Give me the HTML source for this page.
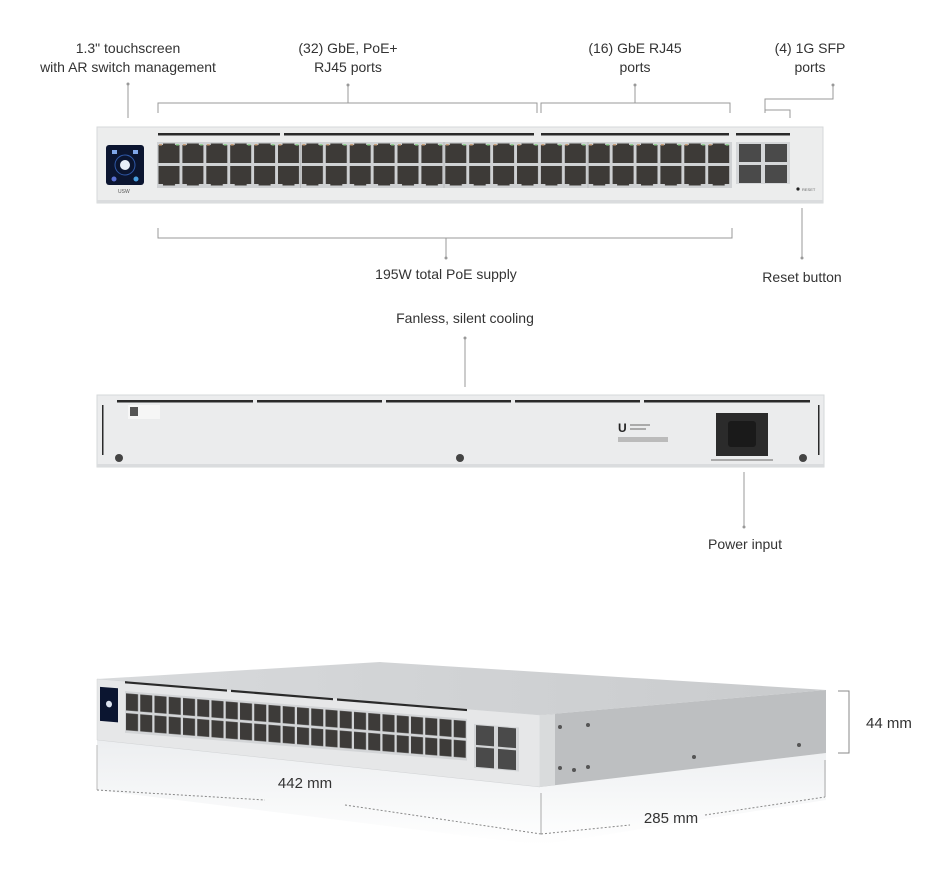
<!DOCTYPE html>
<html><head><meta charset="utf-8"><style>
html,body{margin:0;padding:0;background:#fff;}
svg{display:block;}
text{font-family:"Liberation Sans",sans-serif;fill:#333;font-size:14px;}
</style></head><body>
<svg width="948" height="886" viewBox="0 0 948 886" xmlns="http://www.w3.org/2000/svg">
<defs>
<pattern id="port" x="157" y="143" width="23.9" height="44" patternUnits="userSpaceOnUse">
  <rect x="1.5" y="2" width="21" height="18" fill="#3d3a37"/>
  <rect x="6" y="0.5" width="12" height="3" fill="#3d3a37"/>
  <rect x="1.5" y="23" width="21" height="18" fill="#3d3a37"/>
  <rect x="6" y="39.5" width="12" height="3" fill="#3d3a37"/>
  <rect x="2" y="1" width="3" height="1.5" fill="#c9a07a"/>
  <rect x="19" y="1" width="3" height="1.5" fill="#8fd08f"/>
</pattern>
<pattern id="pport" x="125" y="620" width="14.25" height="36" patternUnits="userSpaceOnUse">
  <rect x="1" y="1" width="12" height="15.5" fill="#3d3b39"/>
  <rect x="1" y="19" width="12" height="15.5" fill="#3d3b39"/>
</pattern>
<linearGradient id="refl" x1="0" y1="0" x2="0" y2="1">
  <stop offset="0" stop-color="#eceef0"/><stop offset="1" stop-color="#fff"/>
</linearGradient>
<linearGradient id="topg" x1="0" y1="0" x2="1" y2="0">
  <stop offset="0" stop-color="#d8dadc"/><stop offset="1" stop-color="#c9cbcd"/>
</linearGradient>
</defs>

<!-- ===== Top labels ===== -->
<text x="128" y="53" text-anchor="middle">1.3" touchscreen</text>
<text x="128" y="72" text-anchor="middle">with AR switch management</text>
<line x1="128" y1="84" x2="128" y2="118" stroke="#999"/>
<circle cx="128" cy="84" r="1.5" fill="#999"/>

<text x="348" y="53" text-anchor="middle">(32) GbE, PoE+</text>
<text x="348" y="72" text-anchor="middle">RJ45 ports</text>
<path d="M348 85 V103 M158 113 V103 H537 V113" stroke="#999" fill="none"/>
<circle cx="348" cy="85" r="1.5" fill="#999"/>

<text x="635" y="53" text-anchor="middle">(16) GbE RJ45</text>
<text x="635" y="72" text-anchor="middle">ports</text>
<path d="M635 85 V103 M541 113 V103 H730 V113" stroke="#999" fill="none"/>
<circle cx="635" cy="85" r="1.5" fill="#999"/>

<text x="810" y="53" text-anchor="middle">(4) 1G SFP</text>
<text x="810" y="72" text-anchor="middle">ports</text>
<path d="M833 85 V99 H765 V113 M765 113 V110 H790 V118" stroke="#999" fill="none"/>
<circle cx="833" cy="85" r="1.5" fill="#999"/>

<!-- ===== Front panel ===== -->
<rect x="97" y="127" width="726" height="76" fill="#eceded" stroke="#d6d8da"/>
<rect x="97" y="200" width="726" height="3" fill="#dadcde"/>
<g fill="#2a2a2a">
<rect x="158" y="133" width="122" height="2.5"/><rect x="284" y="133" width="250" height="2.5"/>
<rect x="541" y="133" width="188" height="2.5"/><rect x="736" y="133" width="54" height="2.5"/>
</g>
<rect x="106" y="145" width="38" height="40" rx="3" fill="#0b1530"/>
<circle cx="125" cy="165" r="5" fill="#e8eef8"/>
<circle cx="125" cy="165" r="10" fill="none" stroke="#2f58a8" stroke-width="1"/>
<rect x="112" y="150" width="5" height="4" fill="#7fa6e8"/><rect x="133" y="150" width="5" height="4" fill="#7fa6e8"/>
<circle cx="114" cy="179" r="2.5" fill="#5a6fd0"/><circle cx="136" cy="179" r="2.5" fill="#4aa0e0"/>
<text x="118" y="193" style="font-size:5px;fill:#555">USW</text>

<rect x="157" y="142" width="575" height="46" fill="#cfd1d3"/>
<rect x="157" y="143" width="575" height="44" fill="url(#port)"/>
<g stroke="#b9bbbd"><line x1="300.5" y1="142" x2="300.5" y2="188"/><line x1="444" y1="142" x2="444" y2="188"/><line x1="588" y1="142" x2="588" y2="188"/></g>
<rect x="736" y="142" width="54" height="42" fill="#d5d7d9"/>
<g fill="#4a4a4a">
<rect x="739" y="144" width="22" height="18"/><rect x="765" y="144" width="22" height="18"/>
<rect x="739" y="165" width="22" height="18"/><rect x="765" y="165" width="22" height="18"/>
</g>
<circle cx="798" cy="189" r="1.6" fill="#222"/>
<text x="802" y="191" style="font-size:4px;fill:#666">RESET</text>

<!-- bottom labels -->
<path d="M158 228 V238 H732 V228 M446 238 V258" stroke="#999" fill="none"/>
<circle cx="446" cy="258" r="1.5" fill="#999"/>
<text x="446" y="279" text-anchor="middle">195W total PoE supply</text>
<line x1="802" y1="208" x2="802" y2="258" stroke="#999"/>
<circle cx="802" cy="258" r="1.5" fill="#999"/>
<text x="802" y="282" text-anchor="middle">Reset button</text>

<!-- ===== Rear ===== -->
<text x="465" y="323" text-anchor="middle">Fanless, silent cooling</text>
<line x1="465" y1="338" x2="465" y2="387" stroke="#999"/>
<circle cx="465" cy="338" r="1.5" fill="#999"/>
<rect x="97" y="395" width="727" height="72" fill="#ebeced" stroke="#d6d8da"/>
<rect x="97" y="464" width="727" height="3" fill="#dadcde"/>
<g fill="#2a2a2a">
<rect x="117" y="400" width="136" height="2.5"/><rect x="257" y="400" width="125" height="2.5"/>
<rect x="386" y="400" width="125" height="2.5"/><rect x="515" y="400" width="125" height="2.5"/>
<rect x="644" y="400" width="166" height="2.5"/>
<rect x="102" y="405" width="1.5" height="50"/><rect x="818" y="405" width="1.5" height="50"/>
</g>
<rect x="128" y="405" width="32" height="14" fill="#f6f6f6"/>
<rect x="130" y="407" width="8" height="9" fill="#555"/>
<circle cx="119" cy="458" r="4" fill="#444"/>
<circle cx="460" cy="458" r="4" fill="#444"/>
<circle cx="803" cy="458" r="4" fill="#444"/>
<text x="618" y="432" style="font-size:12px;fill:#222;font-weight:bold">U</text>
<rect x="630" y="424" width="20" height="2" fill="#aaa"/><rect x="630" y="428" width="16" height="2" fill="#aaa"/>
<rect x="618" y="437" width="50" height="5" fill="#bbb"/>
<rect x="716" y="413" width="52" height="43" fill="#2b2b2b"/>
<rect x="728" y="421" width="28" height="26" rx="3" fill="#1a1a1a"/>
<rect x="711" y="459" width="62" height="2" fill="#aaa"/>
<line x1="744" y1="472" x2="744" y2="527" stroke="#999"/>
<circle cx="744" cy="527" r="1.5" fill="#999"/>
<text x="745" y="549" text-anchor="middle">Power input</text>

<!-- ===== Perspective view ===== -->
<polygon points="97,740 540,787 826,753 826,800 540,845 97,790" fill="url(#refl)"/>
<polygon points="97,679 380,662 826,690 540,715" fill="url(#topg)"/>
<polygon points="97,679 540,715 540,787 97,740" fill="#e6e7e8" stroke="#d0d2d4" stroke-width="0.5"/>
<polygon points="540,715 826,690 826,753 540,787" fill="#bdbfc1"/>
<polygon points="540,715 555,714 555,785 540,787" fill="#d9dbdc"/>
<g transform="matrix(1,0.0813,0,1.1,0,0)">
  <rect x="100" y="617" width="18" height="31" fill="#0b1530"/>
  <circle cx="109" cy="632" r="3" fill="#dde4f0"/>
  <rect x="125" y="610" width="102" height="2" fill="#2a2a2a"/>
  <rect x="231" y="610" width="102" height="2" fill="#2a2a2a"/>
  <rect x="337" y="610" width="130" height="2" fill="#2a2a2a"/>
  <rect x="125" y="619" width="342" height="38" fill="#d3d5d7"/>
  <rect x="125" y="620" width="342" height="36" fill="url(#pport)"/>
  <rect x="474" y="623" width="45" height="40" fill="#d3d5d7"/>
  <g fill="#4a4a4a"><rect x="476" y="624" width="18" height="18"/><rect x="498" y="624" width="18" height="18"/>
  <rect x="476" y="644" width="18" height="18"/><rect x="498" y="644" width="18" height="18"/></g>
</g>
<g fill="#555">
<circle cx="560" cy="727" r="2"/><circle cx="588" cy="725" r="2"/><circle cx="560" cy="768" r="2"/>
<circle cx="574" cy="770" r="2"/><circle cx="588" cy="767" r="2"/><circle cx="694" cy="757" r="2"/><circle cx="799" cy="745" r="2"/>
</g>

<!-- dimensions -->
<path d="M838 691 H849 V753 H838" stroke="#888" fill="none"/>
<text x="866" y="728" style="font-size:15px">44 mm</text>
<line x1="97" y1="745" x2="97" y2="790" stroke="#bbb"/>
<line x1="541" y1="793" x2="541" y2="834" stroke="#aaa"/>
<line x1="825" y1="760" x2="825" y2="797" stroke="#aaa"/>
<path d="M97 790 L265 800 M345 805 L541 834" stroke="#888" stroke-dasharray="2,2" fill="none"/>
<path d="M541 834 L630 825 M705 815 L825 797" stroke="#888" stroke-dasharray="2,2" fill="none"/>
<text x="305" y="788" text-anchor="middle" style="font-size:15px">442 mm</text>
<text x="671" y="823" text-anchor="middle" style="font-size:15px">285 mm</text>
</svg>
</body></html>
